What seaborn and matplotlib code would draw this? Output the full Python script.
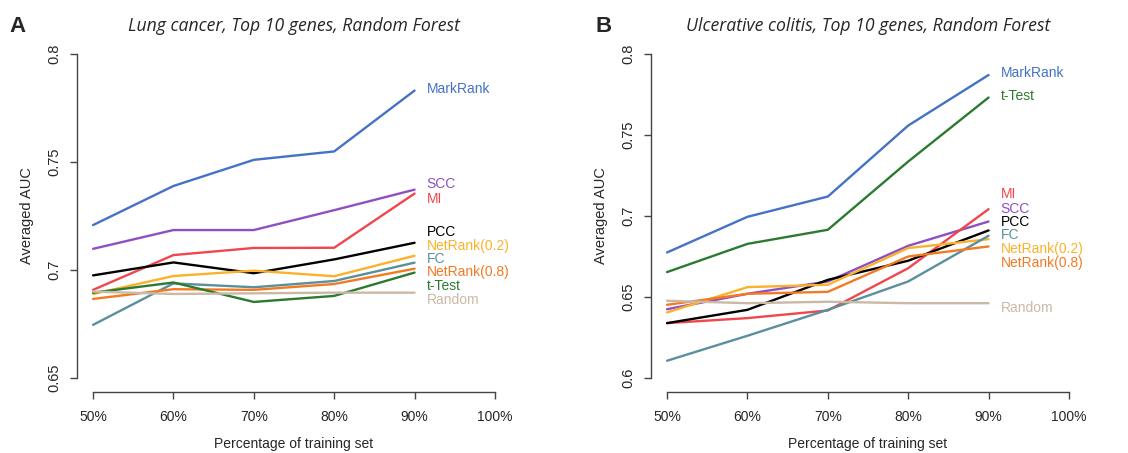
import numpy as np
import pandas as pd
import matplotlib
matplotlib.use("Agg")
import matplotlib.pyplot as plt
import seaborn as sns

sns.set_theme(style="white")
plt.rcParams['font.family'] = ['Liberation Sans', 'DejaVu Sans']

pct = [50, 60, 70, 80, 90]
methods = ["MarkRank", "SCC", "MI", "PCC", "NetRank(0.2)", "FC", "NetRank(0.8)", "t-Test", "Random"]
colors = {
    "MarkRank": "#4472C4",
    "SCC": "#8E4FC4",
    "MI": "#F0464C",
    "PCC": "#000000",
    "NetRank(0.2)": "#FBB22A",
    "FC": "#5A8F9C",
    "NetRank(0.8)": "#F47A22",
    "t-Test": "#2C7A30",
    "Random": "#CBB9A6",
}

# Panel A: Lung cancer
lung = {
    "MarkRank":     [0.7208, 0.7389, 0.7510, 0.7549, 0.7831],
    "SCC":          [0.7098, 0.7185, 0.7185, 0.7277, 0.7372],
    "MI":           [0.6908, 0.7069, 0.7102, 0.7103, 0.7354],
    "PCC":          [0.6975, 0.7035, 0.6985, 0.7049, 0.7126],
    "NetRank(0.2)": [0.6889, 0.6972, 0.6997, 0.6971, 0.7066],
    "FC":           [0.6746, 0.6938, 0.6920, 0.6949, 0.7034],
    "NetRank(0.8)": [0.6866, 0.6911, 0.6908, 0.6935, 0.7006],
    "t-Test":       [0.6895, 0.6942, 0.6852, 0.6880, 0.6988],
    "Random":       [0.6900, 0.6889, 0.6892, 0.6895, 0.6895],
}
lung_label_y = {
    "MarkRank": 0.7838, "SCC": 0.7400, "MI": 0.7331, "PCC": 0.7174,
    "NetRank(0.2)": 0.7112, "FC": 0.7051, "NetRank(0.8)": 0.6989,
    "t-Test": 0.6928, "Random": 0.6862,
}

# Panel B: Ulcerative colitis
uc = {
    "MarkRank":     [0.6775, 0.6995, 0.7120, 0.7558, 0.7870],
    "SCC":          [0.6425, 0.6520, 0.6596, 0.6816, 0.6966],
    "MI":           [0.6339, 0.6370, 0.6417, 0.6678, 0.7042],
    "PCC":          [0.6339, 0.6421, 0.6606, 0.6724, 0.6911],
    "NetRank(0.2)": [0.6405, 0.6561, 0.6576, 0.6802, 0.6857],
    "FC":           [0.6107, 0.6261, 0.6421, 0.6596, 0.6878],
    "NetRank(0.8)": [0.6452, 0.6520, 0.6532, 0.6750, 0.6812],
    "t-Test":       [0.6654, 0.6828, 0.6915, 0.7336, 0.7731],
    "Random":       [0.6477, 0.6462, 0.6471, 0.6462, 0.6462],
}
uc_label_y = {
    "MarkRank": 0.7885, "t-Test": 0.7741, "MI": 0.7135, "SCC": 0.7044,
    "PCC": 0.6962, "FC": 0.6880, "NetRank(0.2)": 0.6798, "NetRank(0.8)": 0.6709,
    "Random": 0.6432,
}

xticks = [50, 60, 70, 80, 90, 100]
xticklabels = ["50%", "60%", "70%", "80%", "90%", "100%"]
yticks_a = [0.65, 0.70, 0.75, 0.80]
yticklabels_a = ["0.65", "0.7", "0.75", "0.8"]
yticks_b = [0.60, 0.65, 0.70, 0.75, 0.80]
yticklabels_b = ["0.6", "0.65", "0.7", "0.75", "0.8"]

W, H = 1128, 453
fig = plt.figure(figsize=(W / 100, H / 100), dpi=100)
axA = fig.add_axes([77 / W, (H - 392) / H, 434 / W, 352 / H])
axB = fig.add_axes([651 / W, (H - 392) / H, 434 / W, 352 / H])


def to_long(d):
    rows = []
    for m in methods:
        for p, v in zip(pct, d[m]):
            rows.append({"pct": p, "auc": v, "method": m})
    return pd.DataFrame(rows)


def draw(ax, d, label_y, yticks, yticklabels, ylim, title):
    df = to_long(d)
    sns.lineplot(data=df, x="pct", y="auc", hue="method", hue_order=methods,
                 palette=colors, linewidth=1.7, legend=False, ax=ax)
    ax.set_xlim(48, 102)
    ax.set_ylim(*ylim)
    for s in ["top", "right"]:
        ax.spines[s].set_visible(False)
    for s in ["left", "bottom"]:
        ax.spines[s].set_color("#444444")
        ax.spines[s].set_linewidth(1.0)
    ax.spines["bottom"].set_bounds(50, 100)
    ax.spines["left"].set_bounds(yticks[0], yticks[-1])
    ax.set_xticks(xticks)
    ax.set_xticklabels(xticklabels, fontsize=10)
    ax.set_yticks(yticks)
    ax.set_yticklabels(yticklabels, fontsize=10.5, rotation=90, va="center")
    ax.tick_params(axis="x", direction="out", length=5, width=1.0,
                   color="#444444", pad=8, bottom=True)
    ax.tick_params(axis="y", direction="out", length=5, width=1.0,
                   color="#444444", pad=6, left=True)
    ax.set_xlabel("Percentage of training set", fontsize=10, labelpad=9)
    ax.set_ylabel("Averaged AUC", fontsize=10.5, labelpad=10)
    for m in methods:
        ax.text(91.5, label_y[m], m, color=colors[m], fontsize=10,
                ha="left", va="center", clip_on=False)
    ax.set_title(title, fontsize=12.7, style="italic", family=["Open Sans", "DejaVu Sans"],
                 pad=6.5)
    ax.grid(False)


draw(axA, lung, lung_label_y, yticks_a, yticklabels_a, (0.6435, 0.8065),
     "Lung cancer, Top 10 genes, Random Forest")
draw(axB, uc, uc_label_y, yticks_b, yticklabels_b, (0.5914, 0.8086),
     "Ulcerative colitis, Top 10 genes, Random Forest")

fig.text(18 / W, 1 - 26 / H, "A", fontsize=16, fontweight="bold", ha="center", va="center")
fig.text(604 / W, 1 - 26 / H, "B", fontsize=16, fontweight="bold", ha="center", va="center")

fig.savefig("out.png", dpi=100)
